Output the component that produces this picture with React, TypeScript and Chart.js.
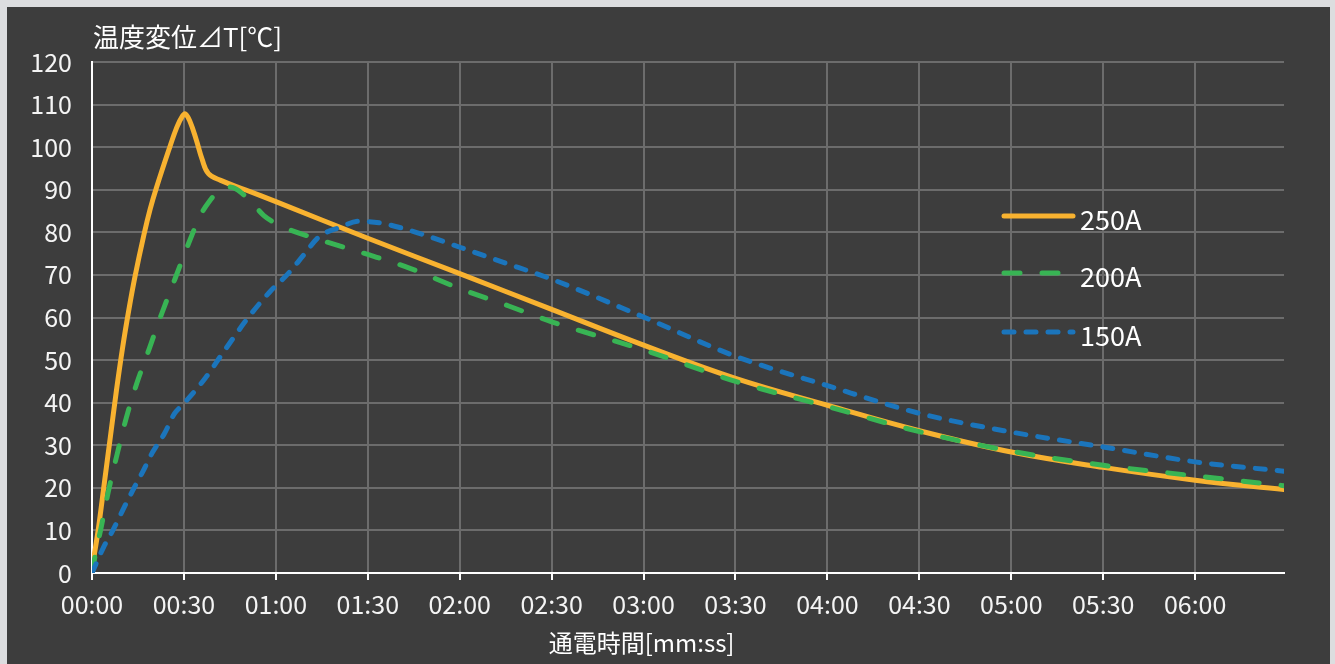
import React, { useEffect, useRef } from "react";
import { Chart, registerables } from "chart.js";

Chart.register(...registerables);

// time [s] and temperature rise [°C]
const t250 = [0, 2, 4, 6, 8, 10, 12, 14, 17, 19, 21, 25, 27.7, 29.5, 30.5, 32, 34, 36, 38, 42, 50, 60, 90, 120, 150, 180, 210, 240, 270, 300, 330, 360, 389];
const v250 = [1, 10, 21, 32, 43, 53, 61.7, 69.5, 79.6, 85.5, 90.4, 99.2, 104.7, 107.3, 107.8, 106, 101.8, 97, 93.8, 92.2, 90, 87.2, 78.6, 70.3, 61.9, 53.5, 45.7, 39.4, 33.4, 28.4, 24.8, 21.8, 19.6];

const t200 = [0, 1, 2.9, 5.3, 8.1, 11.1, 14.6, 18.7, 22.8, 27.1, 30.8, 35.7, 38.5, 41, 44, 47, 50, 53, 56, 61, 75, 90, 104, 120, 136, 150, 180, 210, 240, 270, 300, 330, 360, 389];
const v200 = [0, 4, 10.4, 19, 27.6, 36.2, 44.5, 52.7, 61, 69.1, 76.1, 84.4, 87.5, 89.5, 90.7, 90.2, 88.5, 86.3, 84, 81.7, 78.1, 74.8, 71.5, 66.8, 62.7, 59, 52.4, 45, 39.1, 33.2, 28.6, 25.3, 22.8, 20.5];

const t150 = [0, 3.8, 6.8, 10, 13.3, 16.5, 19.8, 23.6, 26.9, 30, 37, 43, 51, 58, 64, 69, 74, 81, 87, 94, 104, 120, 134, 150, 180, 210, 240, 270, 300, 330, 360, 389];
const v150 = [0, 6.1, 10, 14.7, 19.4, 23.7, 28.4, 32.7, 37.4, 39.8, 45.8, 52, 60, 66, 70.3, 74.6, 78.9, 81.2, 82.6, 82.2, 80.4, 76.5, 73, 69, 60.1, 50.9, 44, 37.5, 33.1, 29.6, 26.1, 23.9];

const seriesLabels = ["250A", "200A", "150A"];
const seriesColors = ["#F8B230", "#38B454", "#1B75BC"];
const seriesDashes: number[][] = [[], [16, 22], [10, 12]];

const yTitle = "温度変位⊿T[℃]";
const xTitle = "通電時間[mm:ss]";
const xMax = 389;
const xStep = 30;
const yMax = 120;
const yStep = 10;

const FONT = '"Noto Sans CJK JP", "Noto Sans", sans-serif';

function fmt(v: number) {
  const m = Math.floor(v / 60);
  const s = Math.round(v % 60);
  return String(m).padStart(2, "0") + ":" + String(s).padStart(2, "0");
}

const textPlugin = {
  id: "customText",
  afterDraw(chart: any) {
    const { ctx, chartArea, scales } = chart;
    ctx.save();
    ctx.fillStyle = "#ffffff";
    ctx.font = `26px ${FONT}`;
    ctx.textBaseline = "middle";
    ctx.textAlign = "left";
    ctx.fillText(yTitle, chartArea.left + 1, 30);
    const xs = scales.x;
    const cx = (xs.getPixelForValue(0) + xs.getPixelForValue(360)) / 2;
    ctx.font = `24px ${FONT}`;
    ctx.textAlign = "center";
    ctx.fillText(xTitle, cx - 2, 636);

    // legend
    const lx = chartArea.left + 912;
    const rowY = [chartArea.top + 154, chartArea.top + 211, chartArea.top + 270];
    ctx.lineCap = "round";
    ctx.lineWidth = 5;
    for (let i = 0; i < seriesLabels.length; i++) {
      ctx.strokeStyle = seriesColors[i];
      ctx.setLineDash(seriesDashes[i]);
      ctx.beginPath();
      ctx.moveTo(lx, rowY[i]);
      ctx.lineTo(lx + 69, rowY[i]);
      ctx.stroke();
    }
    ctx.setLineDash([]);
    ctx.font = `27px ${FONT}`;
    ctx.textAlign = "left";
    ctx.fillStyle = "#ffffff";
    for (let i = 0; i < seriesLabels.length; i++) {
      ctx.fillText(seriesLabels[i], lx + 76, rowY[i] + 4);
    }
    ctx.restore();
  },
};

export default function App() {
  const ref = useRef<HTMLCanvasElement | null>(null);
  useEffect(() => {
    document.body.style.margin = "0";
    document.body.style.background = "#dcdddf";
    const mk = (t: number[], v: number[]) => t.map((x, i) => ({ x, y: v[i] }));
    const datas = [mk(t250, v250), mk(t200, v200), mk(t150, v150)];
    const chart = new Chart(ref.current as HTMLCanvasElement, {
      type: "line",
      data: {
        datasets: datas.map((d, i) => ({
          label: seriesLabels[i],
          data: d,
          borderColor: seriesColors[i],
          backgroundColor: seriesColors[i],
          borderWidth: 5,
          borderDash: seriesDashes[i],
          borderCapStyle: "round" as const,
          borderJoinStyle: "round" as const,
          pointRadius: 0,
          tension: 0.4,
          cubicInterpolationMode: (i === 0 ? "default" : "monotone") as any,
          fill: false,
          order: 2 - i,
        })),
      },
      options: {
        responsive: false,
        animation: false,
        layout: { padding: { top: 55, right: 46, left: 0, bottom: 0 } },
        plugins: { legend: { display: false }, tooltip: { enabled: false }, title: { display: false } },
        scales: {
          x: {
            type: "linear",
            min: 0,
            max: xMax,
            afterFit: (s: any) => {
              s.height = 91;
            },
            grid: { color: "#6c6c6c", lineWidth: 2, tickColor: "#ffffff", tickLength: 7, drawTicks: true },
            border: { color: "#ffffff", width: 2 },
            ticks: {
              stepSize: xStep,
              includeBounds: false,
              autoSkip: false,
              maxRotation: 0,
              color: "#f4f4f4",
              padding: 9,
              font: { family: FONT, size: 25 },
              callback: (v: any) => fmt(Number(v)),
            },
          },
          y: {
            min: 0,
            max: yMax,
            afterFit: (s: any) => {
              s.width = 85;
            },
            grid: { color: "#6c6c6c", lineWidth: 2, drawTicks: false },
            border: { color: "#ffffff", width: 2 },
            ticks: {
              stepSize: yStep,
              color: "#f4f4f4",
              padding: 20,
              font: { family: FONT, size: 25 },
            },
          },
        },
      },
      plugins: [textPlugin],
    });
    return () => chart.destroy();
  }, []);
  return (
    <div style={{ position: "absolute", left: 7, top: 7, width: 1323, height: 657, background: "#3d3d3d" }}>
      <canvas ref={ref} width={1323} height={657} style={{ display: "block" }} />
    </div>
  );
}
